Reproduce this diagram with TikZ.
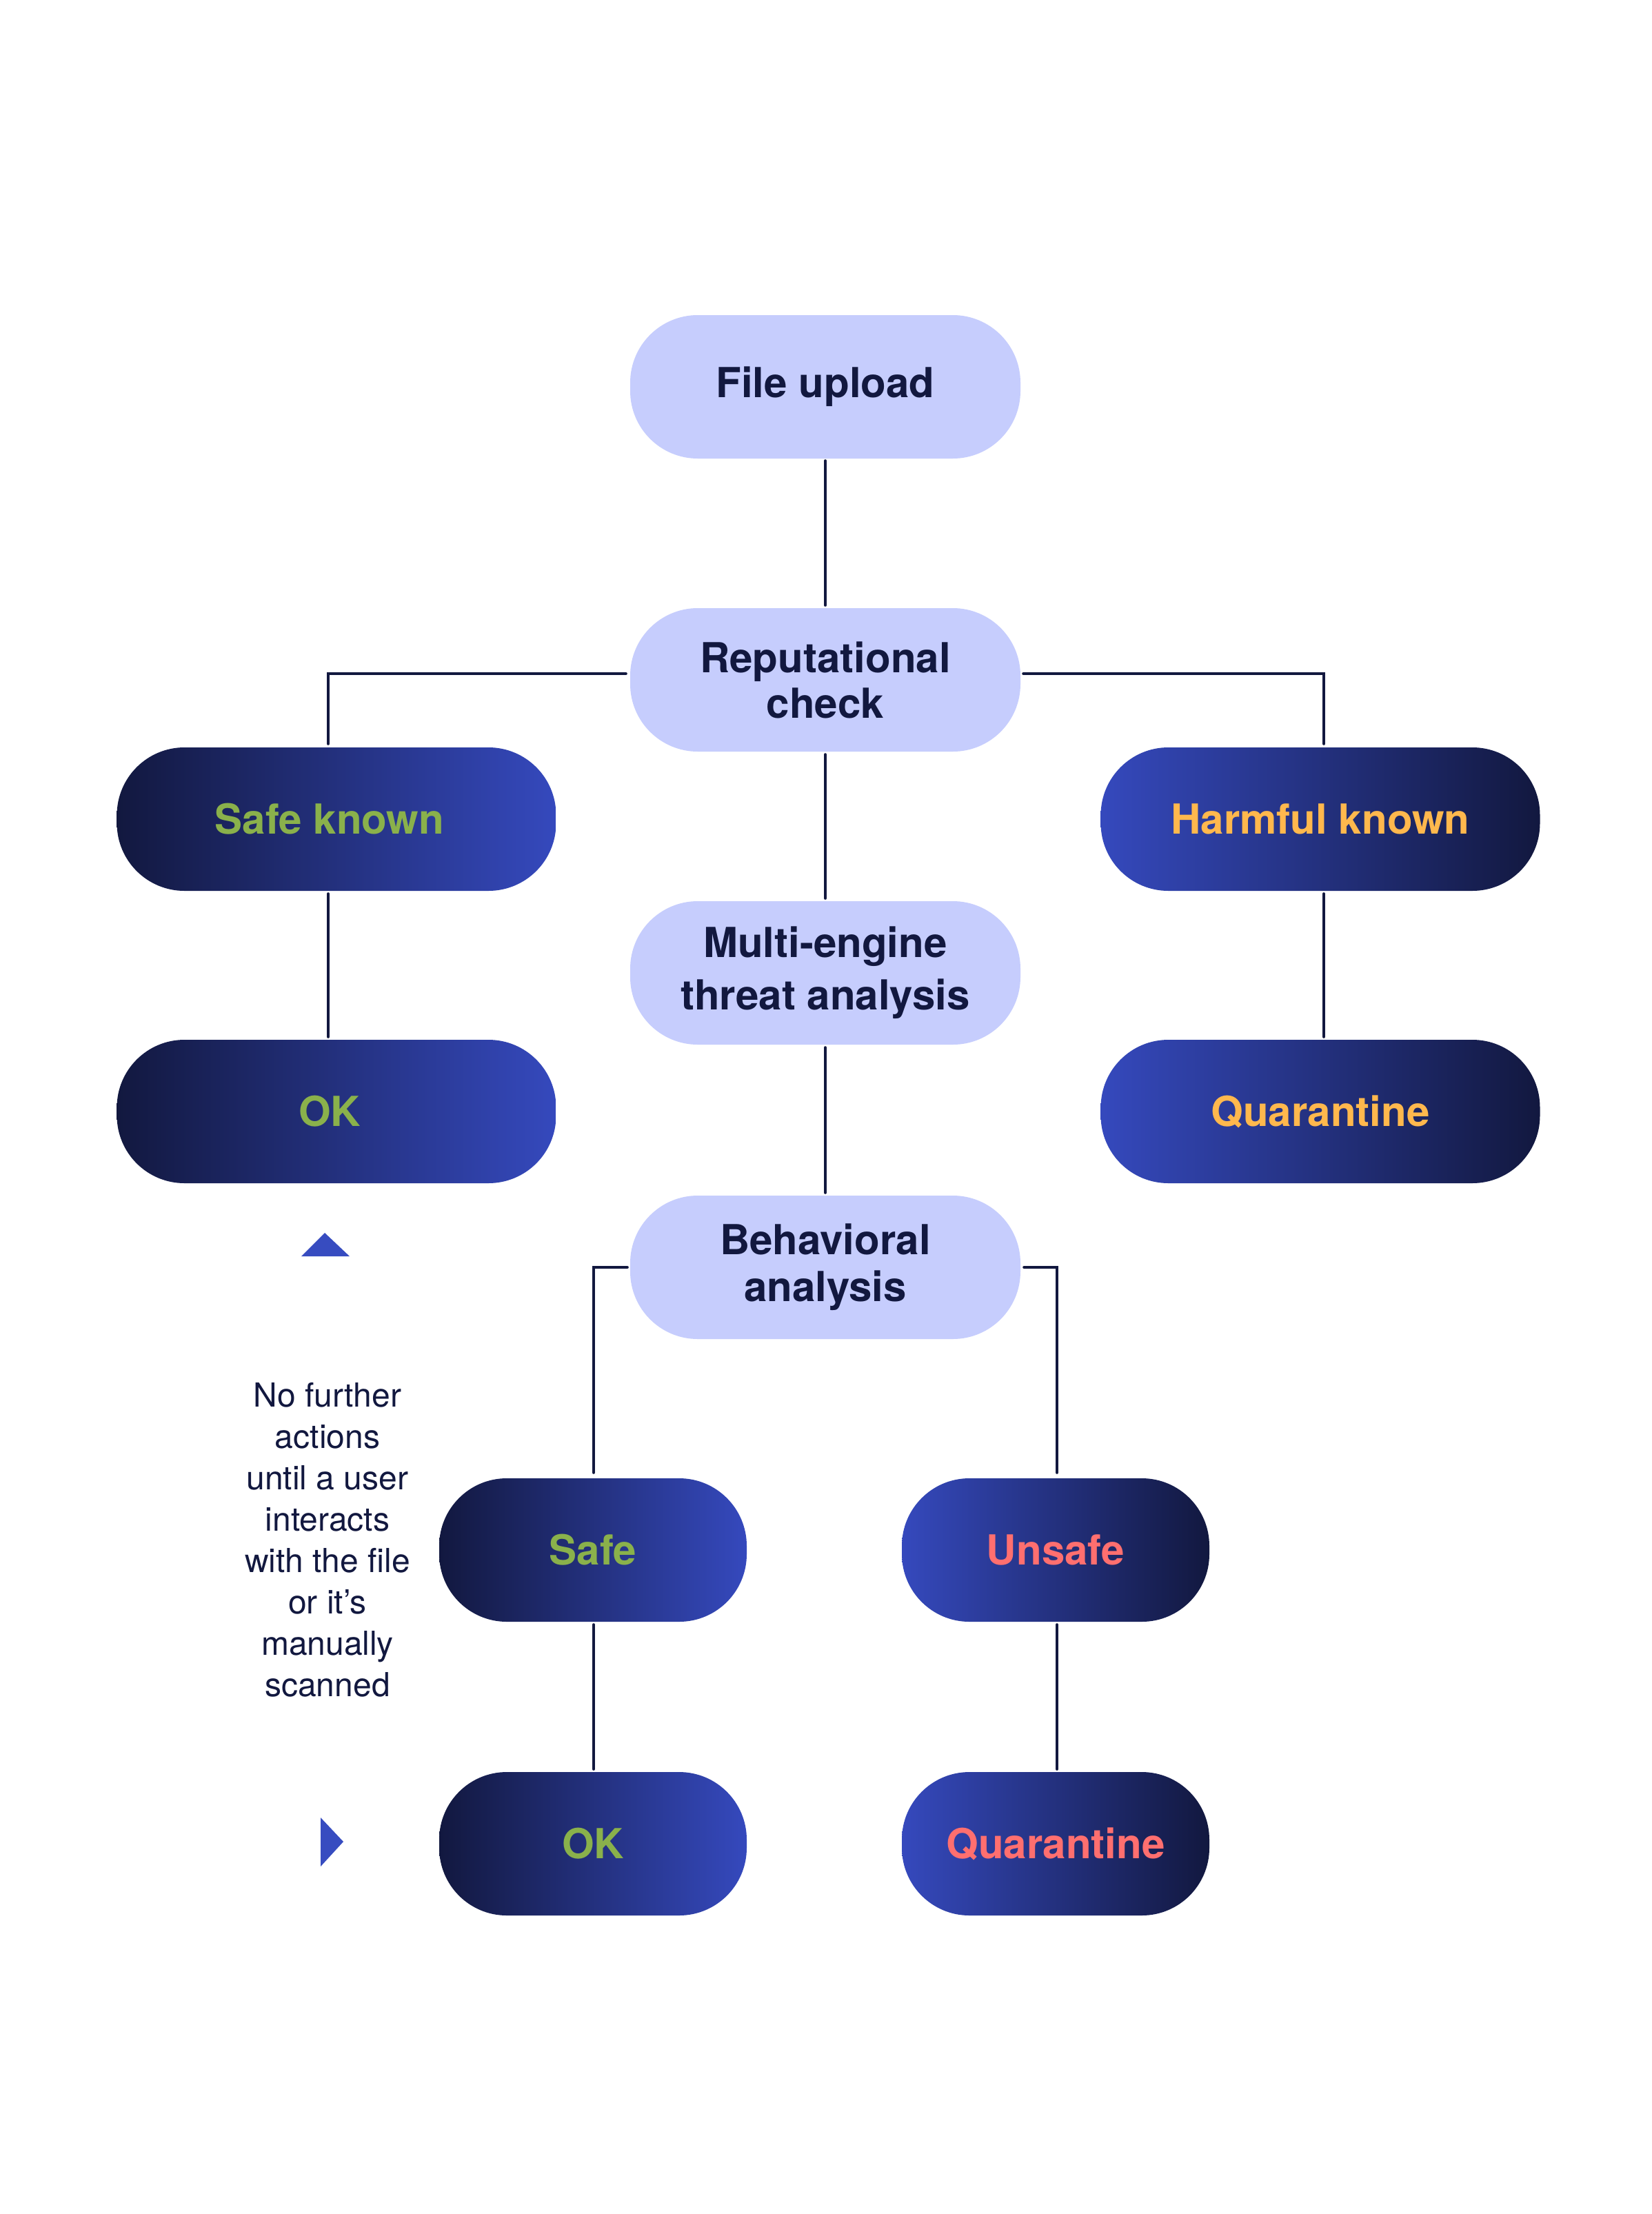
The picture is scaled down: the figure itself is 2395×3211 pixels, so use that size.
\documentclass[tikz,border=0pt]{standalone}
\usepackage{fontspec}
\setmainfont{TeX Gyre Heros}
\definecolor{navy}{HTML}{12183F}
\definecolor{brite}{HTML}{3549BD}
\definecolor{lilac}{HTML}{C6CDFD}
\definecolor{okgreen}{HTML}{8AB14B}
\definecolor{amber}{HTML}{FFB84D}
\definecolor{coral}{HTML}{FF6F6F}
\definecolor{marker}{HTML}{374CC0}
\begin{document}
\begin{tikzpicture}[x=1pt,y=-1pt,
  pill/.style={rounded corners=98pt, inner sep=0pt, align=center,
    font=\fontsize{60}{68}\selectfont\bfseries},
  lightpill/.style={pill, fill=lilac, text=navy, minimum width=566pt, minimum height=208pt},
  darkLR/.style={pill, left color=navy, right color=brite},
  darkRL/.style={pill, left color=brite, right color=navy},
  wide/.style={minimum width=637pt, minimum height=208pt},
  narrow/.style={minimum width=446pt, minimum height=208pt},
  link/.style={draw=navy, line width=4pt, line cap=round}]
\useasboundingbox[fill=white] (0,0) rectangle (2395,3211);

% central column
\node[lightpill] (fu) at (1197,561) {File upload};
\node[lightpill, font=\fontsize{60}{66}\selectfont\bfseries] (rc) at (1197,986) {Reputational\\check};
\node[lightpill, font=\fontsize{60}{76}\selectfont\bfseries] (me) at (1197,1411) {\raisebox{-8pt}{Multi-engine}\\\raisebox{-8pt}{threat analysis}};
\node[lightpill, font=\fontsize{60}{68}\selectfont\bfseries] (ba) at (1197,1838) {Behavioral\\analysis};

% left and right columns
\node[darkLR, wide, text=okgreen] (sk) at (488,1188) {Safe known\hspace*{20pt}};
\node[darkLR, wide, text=okgreen] (ok1) at (488,1612) {OK\hspace*{20pt}};
\node[darkRL, wide, text=amber] (hk) at (1915,1188) {Harmful known};
\node[darkRL, wide, text=amber] (q1) at (1915,1612) {Quarantine};

% bottom
\node[darkLR, narrow, text=okgreen] (sf) at (860,2248) {Safe};
\node[darkLR, narrow, text=okgreen] (ok2) at (860,2674) {OK};
\node[darkRL, narrow, text=coral] (us) at (1531,2248) {Unsafe};
\node[darkRL, narrow, text=coral] (q2) at (1531,2674) {Quarantine};

% note
\node[align=center, text=navy, font=\fontsize{48}{60}\selectfont] (note) at (475,2233)
  {No further\\actions\\until a user\\interacts\\with the file\\or it’s\\manually\\scanned};

% markers
\fill[marker] (437,1822) -- (471,1788) -- (507,1822) -- cycle;
\fill[marker] (465,2636) -- (498,2671) -- (465,2707) -- cycle;

% connectors
\draw[link] ([yshift=-3pt]fu.south) -- ([yshift=4pt]rc.north);
\draw[link] ([yshift=-4pt]rc.south) -- ([yshift=4pt]me.north);
\draw[link] ([yshift=-4pt]me.south) -- ([yshift=4pt]ba.north);
\coordinate (lrc) at ([xshift=-6pt,yshift=9pt]rc.west);
\coordinate (rrc) at ([xshift=4pt,yshift=9pt]rc.east);
\draw[link] (lrc) -| ([xshift=-12pt,yshift=5pt]sk.north);
\draw[link] (rrc) -| ([xshift=5pt,yshift=5pt]hk.north);
\draw[link] ([xshift=-12pt,yshift=-4pt]sk.south) -- ([xshift=-12pt,yshift=4pt]ok1.north);
\draw[link] ([xshift=5pt,yshift=-4pt]hk.south) -- ([xshift=5pt,yshift=4pt]q1.north);
\draw[link] ([xshift=-4pt]ba.west) -| ([xshift=1pt,yshift=8pt]sf.north);
\draw[link] ([xshift=5pt]ba.east) -| ([xshift=2pt,yshift=8pt]us.north);
\draw[link] ([xshift=1pt,yshift=-4pt]sf.south) -- ([xshift=1pt,yshift=4pt]ok2.north);
\draw[link] ([xshift=2pt,yshift=-4pt]us.south) -- ([xshift=2pt,yshift=4pt]q2.north);
\end{tikzpicture}
\end{document}
